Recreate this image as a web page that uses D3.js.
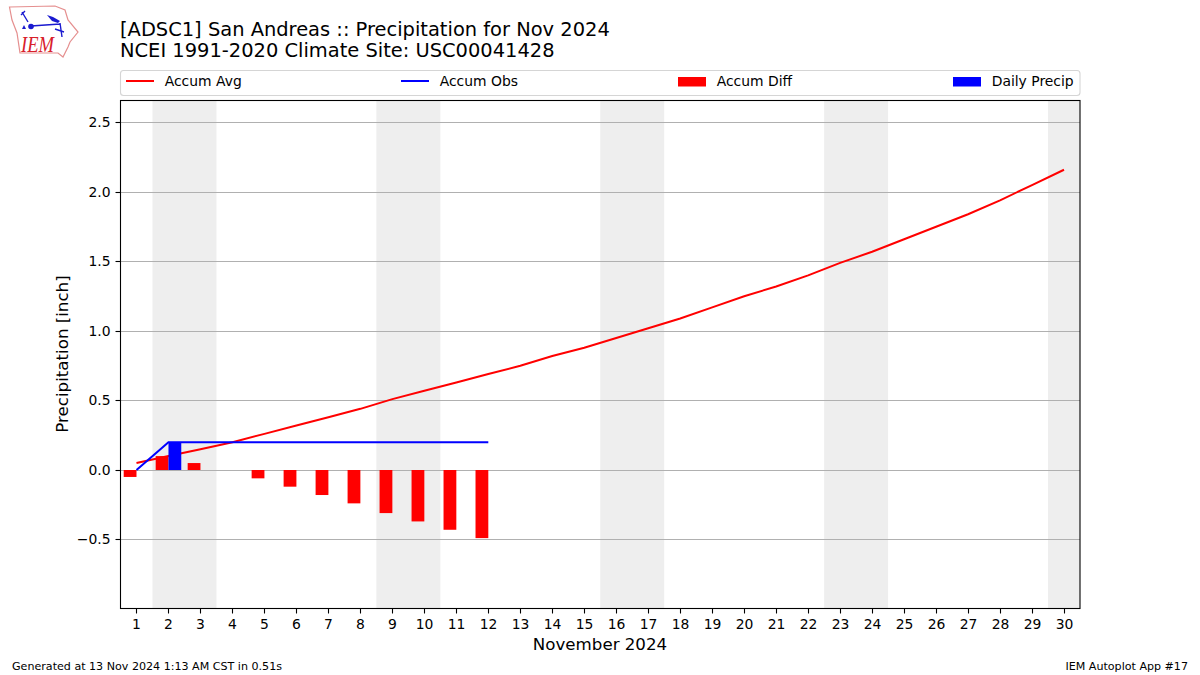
<!DOCTYPE html>
<html>
<head>
<meta charset="utf-8">
<script src="https://cdn.jsdelivr.net/npm/d3@7"></script>
<style>
  html, body { margin: 0; padding: 0; background: #fff; }
  svg { display: block; }
  text { font-family: "DejaVu Sans", sans-serif; fill: #000; }
</style>
</head>
<body>
<div id="chart"></div>
<script>
const days = d3.range(1, 31);
const accumAvg = [0.05, 0.10, 0.15, 0.20, 0.26, 0.32, 0.38, 0.44, 0.51, 0.57,
  0.63, 0.69, 0.75, 0.82, 0.88, 0.95, 1.02, 1.09, 1.17, 1.25,
  1.32, 1.40, 1.49, 1.57, 1.66, 1.75, 1.84, 1.94, 2.05, 2.16];
const accumObs = [0, 0.20, 0.20, 0.20, 0.20, 0.20, 0.20, 0.20, 0.20, 0.20, 0.20, 0.20];
const accumDiff = [-0.05, 0.10, 0.05, 0, -0.06, -0.12, -0.18, -0.24, -0.31, -0.37, -0.43, -0.49];
const dailyPrecip = [0, 0.20, 0, 0, 0, 0, 0, 0, 0, 0, 0, 0];
const weekends = [[1.5, 3.5], [8.5, 10.5], [15.5, 17.5], [22.5, 24.5], [29.5, 30.5]];
const yTicks = [-0.5, 0, 0.5, 1, 1.5, 2, 2.5];
const legendLabels = ['Accum Avg', 'Accum Obs', 'Accum Diff', 'Daily Precip'];
const titleLines = ['[ADSC1] San Andreas :: Precipitation for Nov 2024', 'NCEI 1991-2020 Climate Site: USC00041428'];

const width = 1200, height = 675;
const margin = { top: 100.5, right: 120, bottom: 66.5, left: 120.5 };
const barW = 0.4;

const svg = d3.select('#chart').append('svg')
  .attr('width', width)
  .attr('height', height);

const x = d3.scaleLinear().domain([0.5, 30.5]).range([margin.left, width - margin.right]);
const y = d3.scaleLinear().domain([-0.9964, 2.6583]).range([height - margin.bottom, margin.top]);
const snap = v => Math.floor(v) + 0.5;

// weekend shading
svg.append('g').selectAll('rect')
  .data(weekends)
  .enter().append('rect')
  .attr('x', d => x(d[0]))
  .attr('y', margin.top)
  .attr('width', d => x(d[1]) - x(d[0]))
  .attr('height', y.range()[0] - y.range()[1])
  .style('fill', '#eeeeee');

// grid
svg.append('g').selectAll('line')
  .data(yTicks)
  .enter().append('line')
  .attr('x1', x.range()[0])
  .attr('x2', x.range()[1])
  .attr('y1', d => snap(y(d)))
  .attr('y2', d => snap(y(d)))
  .style('stroke', '#b0b0b0')
  .style('stroke-width', 1.1);

// bars
svg.append('g').selectAll('rect')
  .data(accumDiff)
  .enter().append('rect')
  .attr('x', (d, i) => x(days[i] - barW))
  .attr('y', d => y(Math.max(d, 0)))
  .attr('width', x(barW) - x(0))
  .attr('height', d => Math.abs(y(d) - y(0)))
  .style('fill', '#ff0000');

const line = d3.line().x((d, i) => x(days[i])).y(d => y(d));

svg.append('path')
  .attr('d', line(accumAvg))
  .style('fill', 'none')
  .style('stroke', '#ff0000')
  .style('stroke-width', 2);

svg.append('g').selectAll('rect')
  .data(dailyPrecip)
  .enter().append('rect')
  .attr('x', (d, i) => x(days[i]))
  .attr('y', d => y(d))
  .attr('width', x(barW) - x(0))
  .attr('height', d => y(0) - y(d))
  .style('fill', '#0000ff');

svg.append('path')
  .attr('d', line(accumObs))
  .style('fill', 'none')
  .style('stroke', '#0000ff')
  .style('stroke-width', 2);

// axes
const xAxis = svg.append('g')
  .attr('transform', 'translate(0,' + y.range()[0] + ')')
  .call(d3.axisBottom(x).tickValues(days).tickFormat(d3.format('d')).tickSize(5).tickPadding(5.5));
const yAxis = svg.append('g')
  .attr('transform', 'translate(' + x.range()[0] + ',0)')
  .call(d3.axisLeft(y).tickValues(yTicks).tickFormat(d => d3.format('.1f')(d).replace('-', '\u2212')).tickSize(5).tickPadding(5));
xAxis.selectAll('.tick').attr('transform', d => 'translate(' + snap(x(d)) + ',0)');
yAxis.selectAll('.tick').attr('transform', d => 'translate(0,' + snap(y(d)) + ')');
[xAxis, yAxis].forEach(a => {
  a.selectAll('text').style('font-family', '"DejaVu Sans", sans-serif').style('font-size', '13.9px');
  a.selectAll('line').style('stroke', '#000').style('stroke-width', 1.1);
  a.select('.domain').remove();
});

svg.append('rect')
  .attr('x', x.range()[0])
  .attr('y', margin.top)
  .attr('width', x.range()[1] - x.range()[0])
  .attr('height', y.range()[0] - y.range()[1])
  .style('fill', 'none')
  .style('stroke', '#000')
  .style('stroke-width', 1.1);

// labels
svg.append('text')
  .attr('x', 600)
  .attr('y', 649.5)
  .style('text-anchor', 'middle')
  .style('font-size', '16.67px')
  .text('November 2024');

svg.append('text')
  .attr('transform', 'translate(67.5,354) rotate(-90)')
  .style('text-anchor', 'middle')
  .style('font-size', '16.67px')
  .text('Precipitation [inch]');

svg.selectAll('.title')
  .data(titleLines)
  .enter().append('text')
  .attr('class', 'title')
  .attr('x', 120)
  .attr('y', (d, i) => 35.5 + i * 21.5)
  .style('font-size', '19.44px')
  .text(d => d);

svg.append('text')
  .attr('x', 12).attr('y', 670)
  .style('font-size', '11.1px')
  .text('Generated at 13 Nov 2024 1:13 AM CST in 0.51s');

svg.append('text')
  .attr('x', 1188).attr('y', 670)
  .style('text-anchor', 'end')
  .style('font-size', '11.1px')
  .text('IEM Autoplot App #17');

// legend
svg.append('rect')
  .attr('x', 120.5).attr('y', 70.5)
  .attr('width', 959.5).attr('height', 25)
  .attr('rx', 3)
  .style('fill', '#fff')
  .style('stroke', '#d5d5d5')
  .style('stroke-width', 1.1);

const legendX = [126, 401, 678, 953];
legendLabels.forEach((label, i) => {
  if (i < 2) {
    svg.append('line')
      .attr('x1', legendX[i]).attr('x2', legendX[i] + 28)
      .attr('y1', 81).attr('y2', 81)
      .style('stroke', i == 0 ? '#ff0000' : '#0000ff')
      .style('stroke-width', 2);
  } else {
    svg.append('rect')
      .attr('x', legendX[i]).attr('y', 77)
      .attr('width', 28).attr('height', 9.5)
      .style('fill', i == 2 ? '#ff0000' : '#0000ff');
  }
  svg.append('text')
    .attr('x', legendX[i] + 38.7)
    .attr('y', 86)
    .style('font-size', '13.9px')
    .text(label);
});

// IEM logo
const logo = svg.append('g');
logo.append('path')
  .attr('d', 'M9.5 7 L55 6 L65 10 L68 20 L78 32 L70 42 L68 47 L63 57 L58 53 L20 53 L17 33 L12 20 Z')
  .style('fill', '#fff')
  .style('stroke', '#e58f8f')
  .style('stroke-width', 1.2);
logo.append('path')
  .attr('d', 'M22 12 L28 22 M21 15 L25 11 M31 26 L60 24 M60 23 L62 37 M55 29 L64 32')
  .style('fill', 'none')
  .style('stroke', '#1a1ad0')
  .style('stroke-width', 1.4);
logo.append('path')
  .attr('d', 'M47 15 L53 17 L60 21 L58 23 L52 21 Z')
  .style('fill', '#1a1ad0');
logo.append('path')
  .attr('d', 'M24 25 L26 29 L22 29 Z')
  .style('fill', '#1a1ad0');
logo.append('circle')
  .attr('cx', 31).attr('cy', 26.5).attr('r', 2.8)
  .style('fill', '#1a1ad0');
logo.append('text')
  .attr('x', 21).attr('y', 52)
  .attr('textLength', 33)
  .attr('lengthAdjust', 'spacingAndGlyphs')
  .style('font-family', '"Liberation Serif", serif')
  .style('font-style', 'italic')
  .style('font-size', '23px')
  .style('fill', '#d8202a')
  .text('IEM');
</script>
</body>
</html>
